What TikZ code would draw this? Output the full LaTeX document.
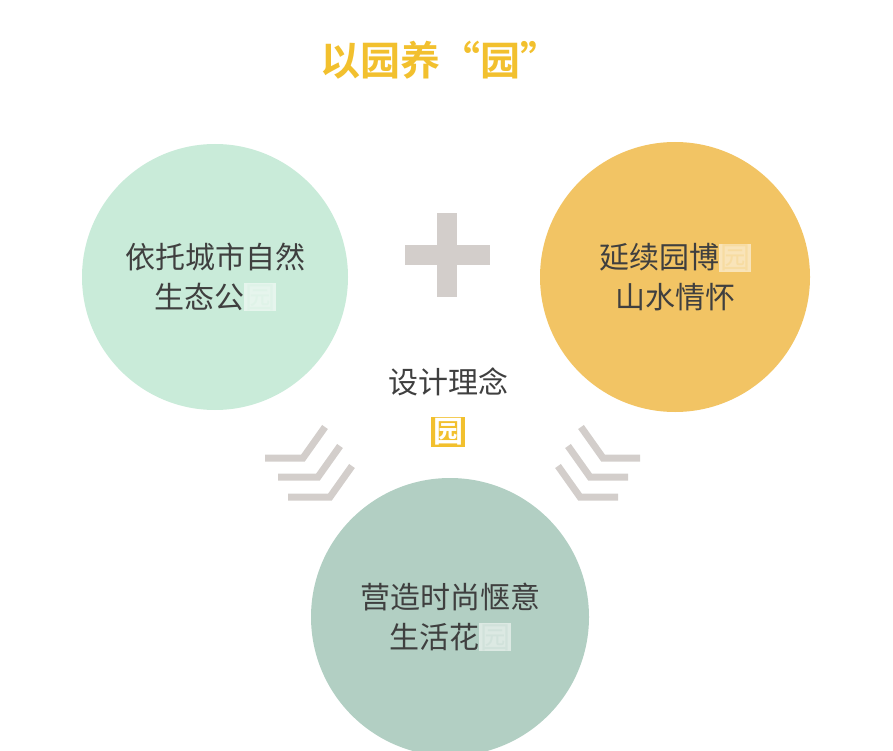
\documentclass[tikz,border=0pt]{standalone}
\usepackage{fontspec}
\newfontfamily\cjk{Noto Sans CJK SC}
\newfontfamily\cjkb{Noto Sans CJK SC Bold}
\definecolor{cg}{HTML}{C9EBD9}
\definecolor{co}{HTML}{F2C464}
\definecolor{ct}{HTML}{B2CFC3}
\definecolor{ttl}{HTML}{F2C02E}
\definecolor{gry}{HTML}{D3CECB}
\definecolor{txt}{HTML}{3F3F3F}
\tikzset{
  circ/.style={circle,minimum size=#1,inner sep=0pt},
  lab/.style={font=\cjk\fontsize{30}{40}\selectfont,text=txt,align=center},
  chev/.style={draw=gry,line width=7pt},
  hl/.style={fill=white,fill opacity=0.55,text opacity=1,inner sep=1pt}
}
\begin{document}
\begin{tikzpicture}[x=1pt,y=-1pt]
\useasboundingbox (0,0) rectangle (893,751);
\node[font=\cjkb\fontsize{40}{48}\selectfont,text=ttl] (title) at (440,60) {以园养“园”};
\node[circ=266pt,fill=cg] (c1) at (215,277) {};
\node[circ=270pt,fill=co] (c2) at (675,277) {};
\node[circ=278pt,fill=ct] (c3) at (450,617) {};
\node[lab] (t1) at (c1) {依托城市自然\\生态公\tikz[baseline=(h.base)]\node[hl,text=cg!60!white] (h) {园};};
\node[lab] (t2) at (c2) {延续园博\tikz[baseline=(h.base)]\node[hl,text=co!60!white] (h) {园};\\山水情怀};
\node[lab] (t3) at (c3) {营造时尚惬意\\生活花\tikz[baseline=(h.base)]\node[hl,text=ct!60!white] (h) {园};};
\fill[gry] (405,245) rectangle (490,265);
\fill[gry] (437,213) rectangle (457,297);
\node[lab] (ct) at (448,382) {设计理念};
\node[fill=ttl,text=white,font=\cjkb\fontsize{30}{36}\selectfont,inner sep=2pt] (y) at (448,432) {园};
\foreach \a/\b/\c in {265/303/0,278/318/19,288/330/39}
  \draw[chev] (\a,458+\c) -- (\b,458+\c) -- (\b+22,427+\c);
\foreach \a/\b/\c in {640/603/0,628/590/19,618/580/39}
  \draw[chev] (\a,458+\c) -- (\b,458+\c) -- (\b-22,427+\c);
\end{tikzpicture}
\end{document}
